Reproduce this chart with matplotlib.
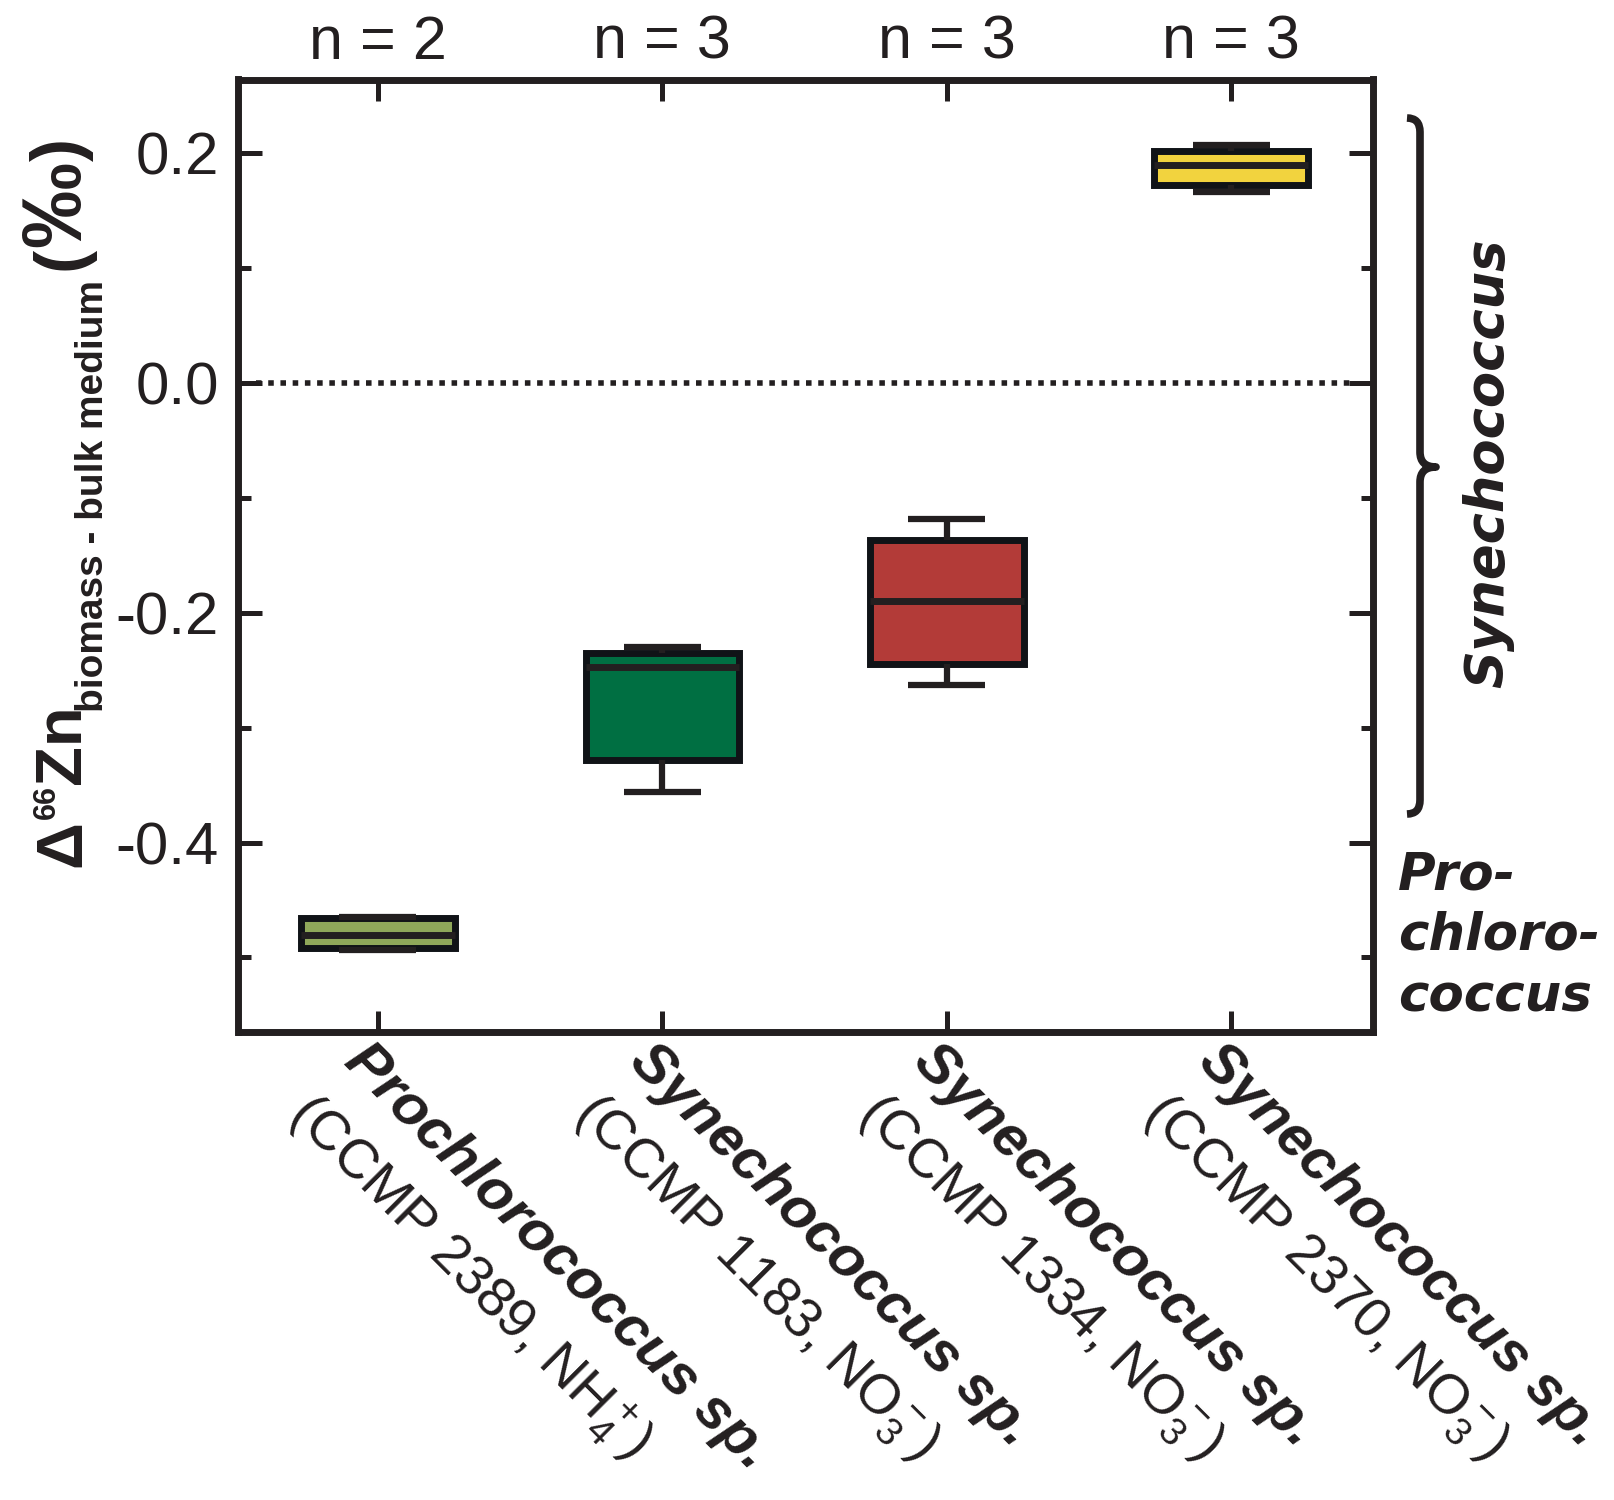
import matplotlib
matplotlib.use("Agg")
import matplotlib.pyplot as plt
from matplotlib import font_manager
from matplotlib.transforms import ScaledTranslation
from matplotlib.path import Path
from matplotlib.patches import PathPatch

# ---- data -------------------------------------------------------------
species = ["Prochlorococcus sp.", "Synechococcus sp.", "Synechococcus sp.", "Synechococcus sp."]
strains = ["(CCMP 2389, NH$_4^+$)", "(CCMP 1183, NO$_3^-$)",
           "(CCMP 1334, NO$_3^-$)", "(CCMP 2370, NO$_3^-$)"]
n_reps = [2, 3, 3, 3]
whisker_low = [-0.4935, -0.3557, -0.2628, 0.1665]
q1 = [-0.4918, -0.3280, -0.2445, 0.1726]
median = [-0.4805, -0.2468, -0.1900, 0.1900]
q3 = [-0.4657, -0.2349, -0.1365, 0.2020]
whisker_high = [-0.4650, -0.2294, -0.1185, 0.2074]
box_colors = ["#8FA85A", "#006F42", "#B33B38", "#F2D33E"]
group_names = ["Synechococcus", "Pro-", "chloro-", "coccus"]

# ---- fonts ------------------------------------------------------------
installed = {f.name for f in font_manager.fontManager.ttflist}
NARROW = "Liberation Sans Narrow" if "Liberation Sans Narrow" in installed else "Liberation Sans"

plt.rcParams["font.family"] = ["Liberation Sans", "DejaVu Sans"]
plt.rcParams["axes.unicode_minus"] = False
plt.rcParams["mathtext.fontset"] = "custom"
plt.rcParams["mathtext.rm"] = "Liberation Sans"
plt.rcParams["mathtext.it"] = "Liberation Sans:italic"
plt.rcParams["mathtext.bf"] = "Liberation Sans:bold"

W, H = 1615, 1500
fig = plt.figure(figsize=(W / 100, H / 100), dpi=100)
ax = fig.add_axes([238.5 / W, 1 - 1032 / H, (1373.5 - 238.5) / W, (1032 - 79.5) / H])

INK = "#231F20"
EDGE = "#101317"

# ---- boxes ------------------------------------------------------------
stats = [dict(med=m, q1=a, q3=b, whislo=lo, whishi=hi, fliers=[])
         for m, a, b, lo, hi in zip(median, q1, q3, whisker_low, whisker_high)]
bp = ax.bxp(stats, positions=range(len(stats)), widths=0.54, capwidths=0.27,
            patch_artist=True, showfliers=False,
            boxprops=dict(linewidth=5, edgecolor=EDGE, joinstyle="miter"),
            medianprops=dict(linewidth=5, color=INK, solid_capstyle="butt"),
            whiskerprops=dict(linewidth=4.5, color=INK, solid_capstyle="butt"),
            capprops=dict(linewidth=4.5, color=INK, solid_capstyle="butt"))
for patch, c in zip(bp["boxes"], box_colors):
    patch.set_facecolor(c)

ax.axhline(0.0, xmin=0.015, xmax=0.985, color=INK, lw=4, ls=(0, (1, 1.2)), zorder=1)

ax.set_xlim(-0.49, 3.50)
ax.set_ylim(-0.5649, 0.2644)

# ---- axes styling -----------------------------------------------------
for s in ax.spines.values():
    s.set_linewidth(5)
    s.set_color(INK)

ax.set_yticks([-0.4, -0.2, 0.0, 0.2])
ax.set_yticklabels(["-0.4", "-0.2", "0.0", "0.2"])
ax.set_yticks([-0.5, -0.3, -0.1, 0.1], minor=True)
ax.tick_params(axis="y", which="both", direction="in", left=True, right=True,
               width=3.6, color=INK)
ax.tick_params(axis="y", which="major", length=17, labelsize=43, pad=14, labelcolor=INK)
ax.tick_params(axis="y", which="minor", length=9)
ax.set_xticks(range(len(species)))
ax.set_xticklabels([])
ax.tick_params(axis="x", which="major", direction="in", top=True, bottom=True,
               length=15, width=3.6, color=INK)
ax.tick_params(axis="x", which="minor", bottom=False, top=False)

# ---- replicate counts above the frame ---------------------------------
xt = ax.get_xaxis_transform()
for i, n in enumerate(n_reps):
    ax.text(i, 1.0, f"n = {n}", transform=xt + ScaledTranslation(0, 15 / 72, fig.dpi_scale_trans),
            ha="center", va="baseline", fontsize=44, color=INK)

# ---- category labels (species + strain) -------------------------------
for i, (sp, st) in enumerate(zip(species, strains)):
    ax.text(i, 0, sp, transform=xt + ScaledTranslation(-4 / 72, -1 / 72, fig.dpi_scale_trans),
            rotation=-45, rotation_mode="anchor", ha="left", va="top",
            fontsize=42, fontweight="bold", fontstyle="italic", color=INK)
    ax.text(i, 0, st, transform=xt + ScaledTranslation(-43 / 72, -38 / 72, fig.dpi_scale_trans),
            rotation=-45, rotation_mode="anchor", ha="left", va="top",
            fontsize=40, color=INK)

# ---- y-axis label built from pieces -----------------------------------
renderer = fig.canvas.get_renderer()


def vpiece(x_px, y_disp, text, **kw):
    t = fig.text(x_px / W, y_disp / H, text, rotation=90, rotation_mode="anchor",
                 ha="left", va="baseline", color=INK, **kw)
    return t.get_window_extent(renderer).y1


y = H - 867
y = vpiece(80, y, "\u0394", fontsize=47, fontweight="bold")
y = vpiece(55, y + 1, "66", fontsize=22, fontweight="bold")
y = vpiece(80, y + 1, "Zn", fontsize=47, fontweight="bold")
y = vpiece(103, y - 8, "biomass - bulk medium", fontsize=28, fontweight="bold", family=NARROW)
y = vpiece(80, y + 10, "(", fontsize=50, fontweight="bold")
y = vpiece(80, y, "\u2030", fontsize=62, fontweight="bold")
y = vpiece(80, y, ")", fontsize=50, fontweight="bold")

# ---- group brackets on the right --------------------------------------
def fx(px):
    return px / W


def fy(py):
    return 1 - py / H


xs, xh, xt_ = 1420, 1407, 1436
top, mid, bot = 118, 467, 814
verts = [(xh, top), (xs, top), (xs, top + 14),
         (xs, mid - 15),
         (xs, mid), (xt_, mid),
         (xs, mid), (xs, mid + 15),
         (xs, bot - 14),
         (xs, bot), (xh, bot)]
codes = [Path.MOVETO, Path.CURVE3, Path.CURVE3,
         Path.LINETO,
         Path.CURVE3, Path.CURVE3,
         Path.CURVE3, Path.CURVE3,
         Path.LINETO,
         Path.CURVE3, Path.CURVE3]
brace = Path([(fx(a), fy(b)) for a, b in verts], codes)
fig.patches.append(PathPatch(brace, transform=fig.transFigure, fill=False,
                             lw=5.5, edgecolor=INK, capstyle="butt", joinstyle="round"))

fig.text(fx(1488), fy(463), group_names[0], rotation=90, rotation_mode="anchor",
         ha="center", va="center", fontsize=38, fontweight="bold", fontstyle="italic",
         family="DejaVu Sans", color=INK)
for line, base in zip(group_names[1:], [889, 949, 1012]):
    fig.text(fx(1398), fy(base), line, ha="left", va="baseline", fontsize=37,
             fontweight="bold", fontstyle="italic", family="DejaVu Sans", color=INK)

fig.savefig("out.png", dpi=100)
